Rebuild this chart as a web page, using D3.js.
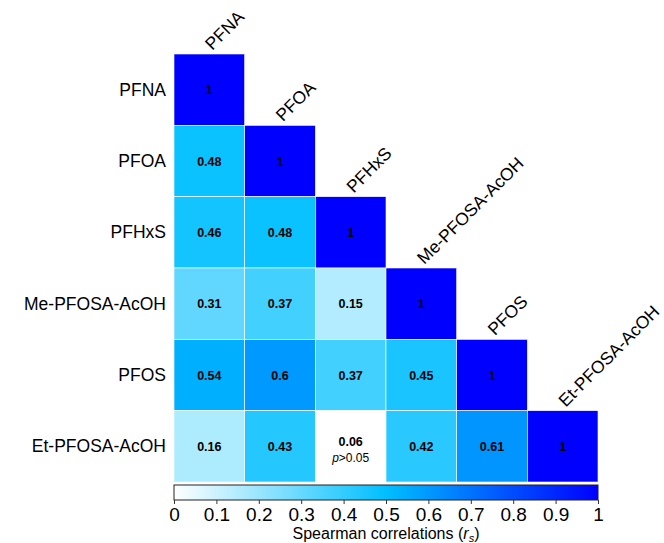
<!DOCTYPE html>
<meta charset="utf-8">
<head>
<title>spearman heatmap</title>
<script src="https://cdn.jsdelivr.net/npm/d3@7"></script>
<style>
body { margin: 0; background: #fff; }
text { font-family: "Liberation Sans", Arial, sans-serif; }
</style>
</head>
<body>
<div id="chart"></div>
<script>

const width = 664;
const height = 543;

const compounds = ["PFNA", "PFOA", "PFHxS", "Me-PFOSA-AcOH", "PFOS", "Et-PFOSA-AcOH"];

// lower triangle, row by row
const rhoRows = [
  [1],
  [0.48, 1],
  [0.46, 0.48, 1],
  [0.31, 0.37, 0.15, 1],
  [0.54, 0.6, 0.37, 0.45, 1],
  [0.16, 0.43, 0.06, 0.42, 0.61, 1]
];

// cells with p > 0.05 (row, col)
const notSignificant = [[5, 2]];

const colorTicks = [0, 0.1, 0.2, 0.3, 0.4, 0.5, 0.6, 0.7, 0.8, 0.9, 1];

const cells = [];
rhoRows.forEach((row, i) => row.forEach((v, j) => {
  const ns = notSignificant.some(p => p[0] === i && p[1] === j);
  cells.push({row: compounds[i], col: compounds[j], value: v, ns: ns});
}));

const svg = d3.select("#chart")
  .append("svg")
  .attr("width", width)
  .attr("height", height)
  .attr("viewBox", [0, 0, width, height]);

const x = d3.scaleBand().domain(compounds).range([174, 598]);
const y = d3.scaleBand().domain(compounds).range([54, 482]);

const color = d3.scaleLinear()
  .domain([0, 0.5, 1])
  .range(["#ffffff", "#00bfff", "#0000ff"]);

svg.append("g")
  .selectAll("rect")
  .data(cells)
  .join("rect")
    .attr("x", d => x(d.col))
    .attr("y", d => y(d.row))
    .attr("width", x.bandwidth())
    .attr("height", y.bandwidth())
    .attr("fill", d => d.ns ? "#ffffff" : color(d.value))
    .attr("stroke", "#ffffff")
    .attr("stroke-width", 0.6);

svg.append("g")
  .selectAll("text")
  .data(cells)
  .join("text")
    .attr("x", d => x(d.col) + x.bandwidth() / 2)
    .attr("y", d => y(d.row) + y.bandwidth() / 2 + (d.ns ? 0 : 4.5))
    .attr("text-anchor", "middle")
    .style("font-size", "12.5px")
    .style("font-weight", "bold")
    .text(d => d.value);

svg.append("g")
  .selectAll("text")
  .data(cells.filter(d => d.ns))
  .join("text")
    .attr("x", d => x(d.col) + x.bandwidth() / 2)
    .attr("y", d => y(d.row) + y.bandwidth() / 2 + 16)
    .attr("text-anchor", "middle")
    .style("font-size", "12px")
    .html("<tspan font-style='italic'>p</tspan>&gt;0.05");

// row labels
svg.append("g")
  .selectAll("text")
  .data(compounds)
  .join("text")
    .attr("x", 166)
    .attr("y", d => y(d) + y.bandwidth() / 2 + 6)
    .attr("text-anchor", "end")
    .style("font-size", "17.5px")
    .text(d => d);

// column labels, diagonal above each diagonal cell
svg.append("g")
  .selectAll("text")
  .data(compounds)
  .join("text")
    .attr("transform", d => `translate(${x(d) + x.bandwidth() / 2 + 3},${y(d) - 3}) rotate(-45)`)
    .attr("text-anchor", "start")
    .style("font-size", "17.5px")
    .text(d => d);

// colour bar
const cb = x.range();
const cbScale = d3.scaleLinear().domain([0, 1]).range(cb);
const defs = svg.append("defs");
const grad = defs.append("linearGradient").attr("id", "cbar");
grad.selectAll("stop")
  .data(d3.range(0, 1.001, 0.05))
  .join("stop")
    .attr("offset", d => d)
    .attr("stop-color", d => color(d));

svg.append("rect")
  .attr("x", cb[0])
  .attr("y", 485)
  .attr("width", cb[1] - cb[0])
  .attr("height", 15)
  .attr("fill", "url(#cbar)")
  .attr("stroke", "#222")
  .attr("stroke-width", 1);

const axis = svg.append("g")
  .attr("transform", "translate(0,500)")
  .call(d3.axisBottom(cbScale).tickValues(colorTicks).tickSize(4).tickPadding(4).tickFormat(d3.format("")));
axis.select(".domain").remove();
axis.attr("font-size", null).attr("font-family", null);
axis.selectAll("text").style("font-size", "19px").attr("fill", "#000");
axis.selectAll("line").attr("stroke", "#333");

svg.append("text")
  .attr("x", (cb[0] + cb[1]) / 2)
  .attr("y", 539)
  .attr("text-anchor", "middle")
  .style("font-size", "16px")
  .html("Spearman correlations (<tspan font-style='italic'>r</tspan><tspan font-style='italic' font-size='11px' dy='3'>s</tspan><tspan dy='-3'>)</tspan>");

</script>
</body>
